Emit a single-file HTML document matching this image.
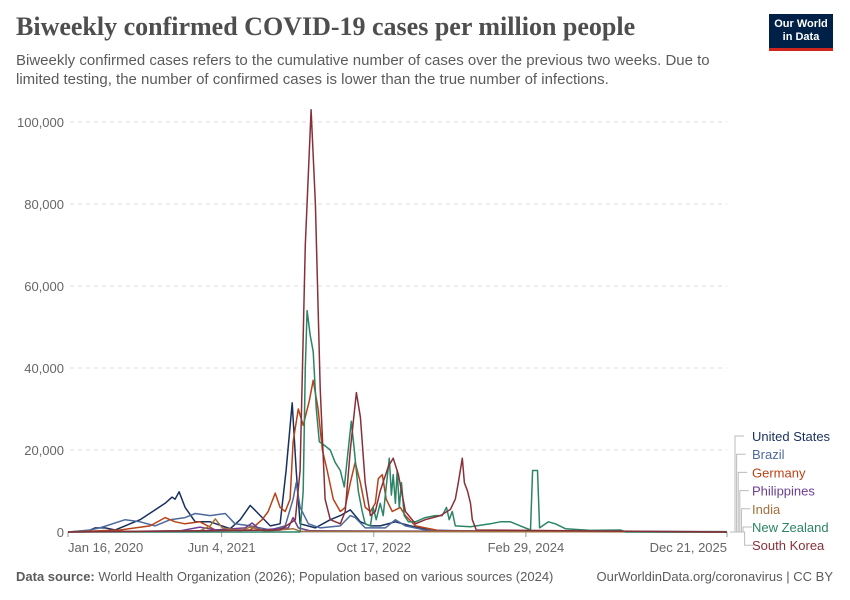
<!DOCTYPE html>
<html><head><meta charset="utf-8"><style>
body{margin:0;background:#fff;font-family:"Liberation Sans",sans-serif;}
#wrap{position:relative;width:850px;height:600px;overflow:hidden;}
h1{position:absolute;left:16px;top:12px;margin:0;font-family:"Liberation Serif",serif;font-size:26px;font-weight:bold;color:#4e4e4e;}
.sub{position:absolute;left:16px;top:51px;width:720px;font-size:15px;line-height:19px;color:#5b5b5b;}
.logo{position:absolute;left:769px;top:14px;width:64px;height:37px;background:#002147;border-bottom:3px solid #ce261e;color:#fff;font-size:11px;font-weight:bold;text-align:center;line-height:13px;padding-top:4px;box-sizing:border-box;}
.foot{position:absolute;top:569px;font-size:13px;color:#5b5b5b;}
</style></head><body>
<div id="wrap">
<h1>Biweekly confirmed COVID-19 cases per million people</h1>
<div class="sub">Biweekly confirmed cases refers to the cumulative number of cases over the previous two weeks. Due to limited testing, the number of confirmed cases is lower than the true number of infections.</div>
<div class="logo">Our World<br>in Data</div>
<svg id="chart" width="850" height="600" style="position:absolute;left:0;top:0"></svg>
<div class="foot" style="left:16px"><b>Data source:</b> World Health Organization (2026); Population based on various sources (2024)</div>
<div class="foot" style="right:17px">OurWorldinData.org/coronavirus | CC BY</div>
</div>
<script>
const yTicks=[0,20000,40000,60000,80000,100000];
const xTickDays=[0,505,1005,1505,2166];
const xTickLabels=["Jan 16, 2020","Jun 4, 2021","Oct 17, 2022","Feb 29, 2024","Dec 21, 2025"];
const names=["United States","Brazil","Germany","Philippines","India","New Zealand","South Korea"];
const colors=["#18305e","#4c6a9c","#b84218","#6d3e91","#a2703c","#2c8465","#883039"];
const usDays=[0,66,89,122,155,237,319,342,352,365,385,418,467,533,566,599,632,665,697,717,737,750,763,813,862,895,928,961,994,1026,1076,1125,1191,1290,2166];
const usVals=[0,300,1000,1000,500,3000,7000,8500,8000,9800,6000,2500,2500,800,3000,6500,4000,1500,2000,15000,31500,15000,2000,1000,3000,4000,5400,2500,1500,1500,2500,1500,500,200,0];
const brDays=[0,72,105,188,237,286,336,385,418,467,517,549,599,665,714,740,750,763,790,829,895,928,944,977,1043,1076,1109,1174,1290,2166];
const brVals=[0,500,1000,3000,2500,1500,3000,3500,4500,4000,4500,2000,1500,500,1500,8000,12000,6000,2000,1000,1500,4000,3500,1000,1000,3000,1500,500,300,100];
const deDays=[0,171,270,319,352,385,434,484,599,638,658,681,697,714,730,740,757,773,793,806,822,836,852,872,895,911,928,944,961,977,994,1010,1020,1033,1046,1066,1092,1109,1142,1174,1224,2166];
const deVals=[0,500,1500,3500,2500,2000,2500,500,500,3000,5000,9500,6000,5000,8000,22000,30000,26000,32000,37000,30000,20000,15000,8000,5000,6000,12000,17000,12000,6000,5000,7000,13000,14000,8000,5000,6000,4000,1500,1000,300,0];
const phDays=[0,368,434,484,582,605,632,724,740,757,796,2166];
const phVals=[0,300,1200,500,1000,2200,500,1000,3500,1000,300,0];
const inDays=[0,434,467,484,507,566,599,648,740,763,2166];
const inVals=[0,300,1500,3200,1000,300,1200,200,800,200,0];
const nzDays=[0,763,773,780,786,796,806,816,826,845,862,878,895,908,921,931,941,954,967,977,994,1003,1013,1026,1036,1046,1056,1063,1069,1076,1082,1089,1096,1105,1119,1142,1174,1207,1230,1244,1253,1263,1273,1323,1388,1421,1454,1487,1520,1527,1543,1550,1579,1602,1635,1717,1816,1833,2166];
const nzVals=[0,0,10000,40000,54000,48000,44000,30000,22000,21000,20000,17000,15000,11000,20000,27000,20000,10000,5000,2000,1500,6000,3000,7000,4000,11000,18000,9000,14000,7000,15000,6000,12000,4000,2500,2500,3500,4000,4000,6000,3000,5000,1500,1300,2000,2500,2500,1500,500,15000,15000,1000,2500,2000,800,400,500,0,0];
const krDays=[0,697,747,763,780,799,813,829,845,862,895,911,928,948,961,977,994,1010,1026,1053,1069,1086,1109,1142,1174,1224,1257,1273,1283,1296,1303,1313,1323,1329,1342,2166];
const krVals=[0,500,3000,15000,70000,103000,80000,35000,8000,3000,2000,5000,20000,34000,28000,12000,4000,5000,10000,16000,18000,14000,5000,2000,3000,4000,5500,8000,12000,18000,12000,10000,7000,3000,500,0];
const seriesDays=[usDays,brDays,deDays,phDays,inDays,nzDays,krDays];
const seriesVals=[usVals,brVals,deVals,phVals,inVals,nzVals,krVals];

const X0=68,X1=727,Y0=532,Y1=122,DMAX=2166,VMAX=100000;
const xs=d=>X0+d/DMAX*(X1-X0);
const ys=v=>Y0-v/VMAX*(Y0-Y1);
const svg=document.getElementById('chart');
const NS='http://www.w3.org/2000/svg';
function mk(t,a){const e=document.createElementNS(NS,t);for(const k in a)e.setAttribute(k,a[k]);svg.appendChild(e);return e;}
yTicks.forEach(v=>{
  if(v>0){const g=mk('line',{x1:70,x2:X1,y1:ys(v),y2:ys(v),stroke:'#ddd','stroke-dasharray':'4,4'});
  
  }
  const t=mk('text',{x:64,y:ys(v)+5,'text-anchor':'end','font-size':'13','fill':'#666','font-family':'Liberation Sans, sans-serif'});
  t.textContent=v.toLocaleString('en-US');
  
  
});
const ax=mk('line',{x1:X0,x2:X1,y1:Y0,y2:Y0,stroke:'#999'});


xTickDays.forEach((d,i)=>{
  const tk=mk('line',{x1:xs(d),x2:xs(d),y1:Y0,y2:Y0+5,stroke:'#999'});
  
  
  const anchor=i==0?'start':(i==xTickDays.length-1?'end':'middle');
  const t=mk('text',{x:xs(d),y:552,'text-anchor':anchor,'font-size':'13','fill':'#666','font-family':'Liberation Sans, sans-serif'});
  t.textContent=xTickLabels[i];
  
  
});
seriesDays.forEach((ds,i)=>{
  const pts=ds.map((d,j)=>xs(d).toFixed(1)+','+ys(seriesVals[i][j]).toFixed(1)).join(' ');
  const p=mk('polyline',{points:pts,fill:'none',stroke:colors[i],'stroke-width':'1.5','stroke-linejoin':'round'});
  
  
});
names.forEach((n,i)=>{
  const ly=436+i*18.2;
  const bx=735+i*1.6;
  const c=mk('path',{d:`M${X1+3},${Y0} H${bx} V${ly} H${bx+9}`,fill:'none',stroke:'#bbb','stroke-width':'1'});
  
  
  const t=mk('text',{x:752,y:ly+5,'font-size':'13','fill':colors[i],'font-family':'Liberation Sans, sans-serif'});
  t.textContent=n;
  
  
});
</script>
</body></html>
